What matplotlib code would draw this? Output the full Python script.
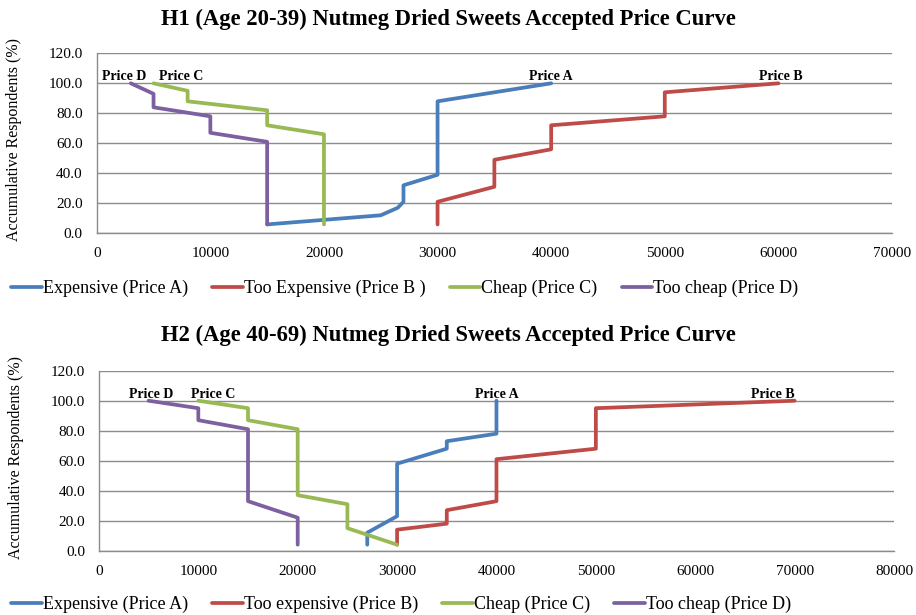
import matplotlib
matplotlib.use("Agg")
import matplotlib.pyplot as plt

# ---------------- data: H1 (Age 20-39) ----------------
h1_a_price = [15000, 25000, 26500, 27000, 27000, 30000, 30000, 40000]
h1_a_pct   = [5.9, 12.0, 17.0, 21.0, 32.0, 39.0, 88.0, 100.0]
h1_b_price = [30000, 30000, 35000, 35000, 40000, 40000, 50000, 50000, 60000]
h1_b_pct   = [5.9, 21.0, 31.0, 49.0, 56.0, 72.0, 78.0, 94.0, 100.0]
h1_c_price = [20000, 20000, 15000, 15000, 8000, 8000, 5000]
h1_c_pct   = [5.9, 66.0, 72.0, 82.0, 88.0, 95.0, 100.0]
h1_d_price = [15000, 15000, 10000, 10000, 5000, 5000, 3000]
h1_d_pct   = [5.9, 61.0, 67.0, 78.0, 84.0, 93.0, 100.0]

# ---------------- data: H2 (Age 40-69) ----------------
h2_a_price = [27000, 27000, 30000, 30000, 35000, 35000, 40000, 40000]
h2_a_pct   = [4.0, 12.0, 23.0, 58.0, 68.0, 73.0, 78.0, 100.0]
h2_b_price = [30000, 30000, 35000, 35000, 40000, 40000, 50000, 50000, 70000]
h2_b_pct   = [4.0, 14.0, 18.0, 27.0, 33.0, 61.0, 68.0, 95.0, 100.0]
h2_c_price = [30000, 25000, 25000, 20000, 20000, 15000, 15000, 10000]
h2_c_pct   = [4.0, 15.0, 31.0, 37.0, 81.0, 87.0, 95.0, 100.0]
h2_d_price = [20000, 20000, 15000, 15000, 10000, 10000, 5000]
h2_d_pct   = [4.0, 22.0, 33.0, 81.0, 87.0, 95.0, 100.0]

h1_labels = ["Expensive (Price A)", "Too Expensive (Price B )", "Cheap (Price C)", "Too cheap (Price D)"]
h2_labels = ["Expensive (Price A)", "Too expensive (Price B)", "Cheap (Price C)", "Too cheap (Price D)"]
h1_title = "H1 (Age 20-39) Nutmeg Dried Sweets Accepted Price Curve"
h2_title = "H2 (Age 40-69) Nutmeg Dried Sweets Accepted Price Curve"
ylabel = "Accumulative Respondents (%)"
point_names = ["Price A", "Price B", "Price C", "Price D"]

colors = ["#4A7EBB", "#BE4B48", "#98B954", "#7D60A0"]

plt.rcParams['font.family'] = ['Liberation Serif', 'DejaVu Serif']

fig = plt.figure(figsize=(9.16, 6.15), dpi=100)

LW = 2.7


def draw(ax, series, labels, xmax, label_offsets):
    handles = []
    for (xs, ys), lab, col, name, off in zip(series, labels, colors, point_names, label_offsets):
        ln, = ax.plot(xs, ys, color=col, lw=LW, label=lab,
                      solid_joinstyle='round', solid_capstyle='round', zorder=3)
        handles.append(ln)
        ax.annotate(name, (xs[-1], ys[-1]), xytext=off, textcoords='offset points',
                    ha='center', va='bottom', fontsize=10, fontweight='bold', zorder=4)
    ax.set_xlim(0, xmax)
    ax.set_ylim(0, 120)
    ax.set_yticks(range(0, 121, 20))
    ax.set_yticklabels([f"{v:.1f}" for v in range(0, 121, 20)])
    ax.set_xticks(range(0, xmax + 1, 10000))
    ax.set_xticklabels([str(v) for v in range(0, xmax + 1, 10000)])
    ax.tick_params(axis='both', length=0, labelsize=11)
    ax.tick_params(axis='y', pad=10)
    ax.tick_params(axis='x', pad=10)
    ax.grid(axis='y', color='#8C8C8C', lw=1.0)
    ax.set_axisbelow(True)
    for s in ['top', 'right']:
        ax.spines[s].set_visible(False)
    for s in ['left', 'bottom']:
        ax.spines[s].set_color('#8C8C8C')
        ax.spines[s].set_linewidth(1.0)
    ax.set_ylabel(ylabel, fontsize=11.5)
    ax.yaxis.set_label_coords(-0.094, 0.52)
    return handles


ax1 = fig.add_axes([0.1056, 0.6207, 0.8682, 0.2926])
l1 = draw(ax1, [(h1_a_price, h1_a_pct), (h1_b_price, h1_b_pct),
                (h1_c_price, h1_c_pct), (h1_d_price, h1_d_pct)],
          h1_labels, 70000, [(0, 0), (2, 0), (20, 0), (-5, 0)])

ax2 = fig.add_axes([0.1080, 0.1046, 0.8680, 0.2926])
l2 = draw(ax2, [(h2_a_price, h2_a_pct), (h2_b_price, h2_b_pct),
                (h2_c_price, h2_c_pct), (h2_d_price, h2_d_pct)],
          h2_labels, 80000, [(0, 0), (-16, 0), (11, 0), (2, 0)])

fig.text(0.49, 0.968, h1_title, ha='center', va='center', fontsize=16.3, fontweight='bold')
fig.text(0.49, 0.454, h2_title, ha='center', va='center', fontsize=16.3, fontweight='bold')

leg_kw = dict(ncol=4, frameon=False, fontsize=13, handlelength=1.7,
              handletextpad=0.05, columnspacing=1.35, borderaxespad=0, borderpad=0)
fig.legend(l1, h1_labels, loc='center left', bbox_to_anchor=(0.012, 0.531), **leg_kw)
fig.legend(l2, h2_labels, loc='center left', bbox_to_anchor=(0.012, 0.017), **leg_kw)

fig.savefig("out.png", dpi=100)
